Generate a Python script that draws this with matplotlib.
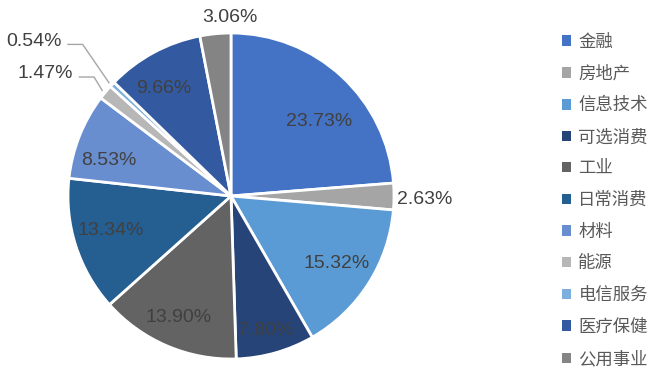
import numpy as np
import matplotlib.pyplot as plt
from matplotlib.patches import Patch

plt.rcParams['font.family'] = ['Liberation Sans', 'Noto Sans CJK SC', 'DejaVu Sans']

# data
sectors = ['金融', '房地产', '信息技术', '可选消费', '工业', '日常消费',
           '材料', '能源', '电信服务', '医疗保健', '公用事业']
shares = [23.73, 2.63, 15.32, 7.80, 13.90, 13.34, 8.53, 1.47, 0.54, 9.66, 3.06]
colors = ['#4472C4', '#A5A5A5', '#5B9BD5', '#264478', '#636363', '#255E91',
          '#698ED0', '#B7B7B7', '#7CAFDD', '#335AA1', '#848484']

# inside label placement: (angle shift in deg, radius)
inner_pos = {'金融': (-7, 0.705), '信息技术': (0, 0.77), '可选消费': (-1.5, 0.85),
             '工业': (0, 0.81), '日常消费': (-2, 0.77), '材料': (5.5, 0.78),
             '医疗保健': (3.5, 0.78)}

fig = plt.figure(figsize=(6.66, 3.78), dpi=100)
cx, cy, r = 231, 378 - 196, 163
ax = fig.add_axes([(cx - r) / 666, (cy - r) / 378, 2 * r / 666, 2 * r / 378])

wedges, _ = ax.pie(shares, colors=colors, startangle=90, counterclock=False,
                   wedgeprops=dict(edgecolor='white', linewidth=2))
ax.set_xlim(-1, 1)
ax.set_ylim(-1, 1)
ax.set_aspect('equal')
ax.axis('off')

txt = '#404040'
for i, (w, v) in enumerate(zip(wedges, shares)):
    mid = (w.theta1 + w.theta2) / 2
    ang = np.deg2rad(mid)
    lab = '%.2f%%' % v
    name = sectors[i]
    if name == '房地产':
        ax.text(1.19 * np.cos(ang), 1.19 * np.sin(ang) - 0.02, lab, ha='center', va='center',
                fontsize=14, color=txt)
    elif name == '公用事业':
        ax.text(1.1 * np.cos(ang) + 0.1, 1.1 * np.sin(ang), lab, ha='center', va='center',
                fontsize=14, color=txt)
    elif name in ('能源', '电信服务'):
        ex, ey = np.cos(ang), np.sin(ang)
        ty = 0.73 if name == '能源' else 0.93
        tx = -0.97 if name == '能源' else -1.04
        ax.text(tx, ty + 0.02, lab, ha='right', va='center', fontsize=14, color=txt)
        ax.plot([tx + 0.04, tx + 0.13, ex - 0.02], [ty, ty, ey + 0.01], color='#A6A6A6',
                lw=1, clip_on=False)
    else:
        da, rr = inner_pos[name]
        a2 = np.deg2rad(mid + da)
        ax.text(rr * np.cos(a2), rr * np.sin(a2), lab, ha='center', va='center',
                fontsize=14, color=txt)

handles = [Patch(facecolor=c, edgecolor='none') for c in colors]
leg = fig.legend(handles, sectors, loc='upper left', bbox_to_anchor=(555 / 666, 1 - 26.5 / 378),
                 frameon=False, fontsize=12.5, handlelength=0.55, handleheight=0.55,
                 handletextpad=0.4, labelspacing=0.9, borderaxespad=0)
for t in leg.get_texts():
    t.set_color('#595959')

fig.savefig('out.png', dpi=100)
